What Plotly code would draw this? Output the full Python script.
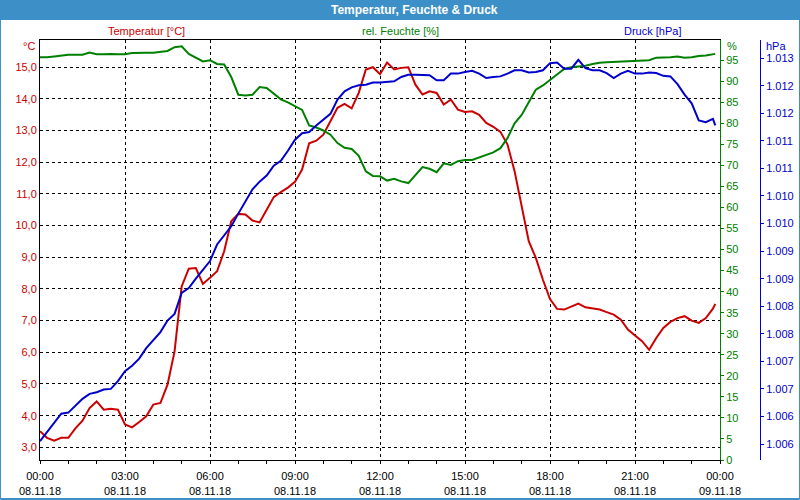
import pandas as pd
import plotly.graph_objects as go

# ---- data (15-minute readings, 08.11.18) ----
times = list(pd.date_range("2018-11-08 00:00", periods=96, freq="15min")) + [pd.Timestamp("2018-11-08 23:50")]

temperatur = [3.51, 3.30, 3.21, 3.30, 3.30, 3.60, 3.84, 4.24, 4.45, 4.19, 4.22, 4.19,
              3.72, 3.63, 3.80, 3.98, 4.35, 4.40, 4.98, 6.03, 8.08, 8.64, 8.66, 8.16,
              8.35, 8.56, 9.19, 10.14, 10.37, 10.35, 10.16, 10.10, 10.50, 10.90, 11.06, 11.20,
              11.38, 11.77, 12.60, 12.68, 12.87, 13.30, 13.72, 13.84, 13.70, 14.19, 14.93, 15.00,
              14.78, 15.15, 14.93, 14.98, 15.00, 14.45, 14.14, 14.24, 14.19, 13.82, 13.98, 13.66,
              13.59, 13.61, 13.50, 13.24, 13.12, 12.96, 12.56, 11.72, 10.61, 9.51, 8.98, 8.29,
              7.68, 7.37, 7.35, 7.45, 7.54, 7.42, 7.38, 7.35, 7.27, 7.19, 7.03, 6.72,
              6.53, 6.35, 6.08, 6.45, 6.77, 6.96, 7.08, 7.14, 7.00, 6.93, 7.08, 7.38, 7.53]

feuchte = [95.7, 95.7, 95.9, 96.1, 96.3, 96.3, 96.3, 96.8, 96.4, 96.4, 96.5, 96.4,
           96.4, 96.7, 96.8, 96.8, 96.8, 97.0, 97.2, 98.1, 98.3, 96.5, 95.6, 94.7,
           95.0, 94.1, 94.0, 91.0, 86.8, 86.6, 86.8, 88.6, 88.4, 87.0, 85.7, 85.0,
           84.1, 83.2, 79.5, 79.0, 78.3, 77.3, 75.3, 74.2, 73.9, 72.3, 68.6, 67.5,
           67.4, 66.4, 66.8, 66.2, 65.8, 67.8, 69.6, 69.2, 68.4, 70.5, 70.1, 71.0,
           71.3, 71.3, 71.9, 72.6, 73.1, 74.1, 76.5, 80.0, 82.0, 85.0, 88.0, 89.0,
           90.3, 91.6, 92.9, 93.3, 93.5, 93.7, 94.1, 94.4, 94.5, 94.6, 94.7, 94.8,
           94.8, 94.9, 95.0, 95.6, 95.6, 95.7, 95.9, 95.6, 95.7, 96.0, 96.1, 96.5, 96.5]

druck = [1005.55, 1005.72, 1005.87, 1006.05, 1006.07, 1006.20, 1006.32, 1006.41, 1006.44, 1006.49, 1006.50, 1006.64,
         1006.82, 1006.92, 1007.05, 1007.24, 1007.38, 1007.53, 1007.74, 1007.86, 1008.24, 1008.33, 1008.50, 1008.65,
         1008.82, 1009.12, 1009.28, 1009.45, 1009.68, 1009.89, 1010.12, 1010.26, 1010.37, 1010.55, 1010.64, 1010.82,
         1011.02, 1011.14, 1011.16, 1011.28, 1011.39, 1011.49, 1011.75, 1011.90, 1011.97, 1012.01, 1012.02, 1012.06,
         1012.06, 1012.07, 1012.08, 1012.16, 1012.20, 1012.20, 1012.20, 1012.19, 1012.10, 1012.10, 1012.22, 1012.22,
         1012.25, 1012.27, 1012.22, 1012.14, 1012.16, 1012.17, 1012.22, 1012.28, 1012.28, 1012.24, 1012.25, 1012.28,
         1012.41, 1012.42, 1012.31, 1012.31, 1012.47, 1012.32, 1012.28, 1012.28, 1012.23, 1012.14, 1012.22, 1012.27,
         1012.22, 1012.22, 1012.24, 1012.23, 1012.18, 1012.17, 1012.03, 1011.84, 1011.68, 1011.37, 1011.34, 1011.40, 1011.28]

temp_ticks = [3, 4, 5, 6, 7, 8, 9, 10, 11, 12, 13, 14, 15]
feuchte_ticks = [0, 5, 10, 15, 20, 25, 30, 35, 40, 45, 50, 55, 60, 65, 70, 75, 80, 85, 90, 95]
druck_ticks = [1005.5, 1006.0, 1006.5, 1007.0, 1007.5, 1008.0, 1008.5, 1009.0,
               1009.5, 1010.0, 1010.5, 1011.0, 1011.5, 1012.0, 1012.5]
druck_ticktext = ["1.006", "1.006", "1.007", "1.007", "1.008", "1.008", "1.009", "1.009",
                  "1.010", "1.010", "1.011", "1.011", "1.012", "1.012", "1.013"]

RED = "#cc0000"
GREEN = "#008000"
BLUE = "#0000cc"
FRAME = "#3d8fc8"
FONT = "Liberation Sans"

fig = go.Figure()
fig.add_trace(go.Scatter(x=times, y=feuchte, yaxis="y2", mode="lines",
                         line=dict(color=GREEN, width=2), name="rel. Feuchte [%]"))
fig.add_trace(go.Scatter(x=times, y=temperatur, yaxis="y", mode="lines",
                         line=dict(color=RED, width=2), name="Temperatur [°C]"))
fig.add_trace(go.Scatter(x=times, y=druck, yaxis="y3", mode="lines",
                         line=dict(color=BLUE, width=2), name="Druck [hPa]"))

W, H = 800, 500
L, R, T, B = 40, 40, 40, 40
pw, ph = W - L - R, H - T - B


def px(x):
    return (x - L) / pw


def py(y):
    return (H - B - y) / ph


fig.update_layout(
    width=W, height=H,
    margin=dict(l=L, r=R, t=T, b=B, autoexpand=False),
    paper_bgcolor="white", plot_bgcolor="white",
    showlegend=False,
    separators=",.",
    font=dict(family=FONT, size=11, color="black"),
    xaxis=dict(
        domain=[0, 680 / pw],
        automargin=False,
        type="date",
        range=["2018-11-08 00:00", "2018-11-09 00:00"],
        tick0="2018-11-08 00:00", dtick=3 * 3600 * 1000,
        tickformat="%H:%M<br>%d.%m.%y",
        ticks="outside", ticklen=3, tickcolor="black",
        ticklabelstandoff=3,
        minor=dict(dtick=3600 * 1000, ticks="outside", ticklen=3, tickcolor="black", showgrid=False),
        showline=True, linecolor="black", linewidth=1, mirror=True,
        showgrid=True, gridcolor="black", gridwidth=1, griddash="3px,3px",
        tickfont=dict(color="black", size=11),
        zeroline=False,
    ),
    yaxis=dict(
        automargin=False,
        range=[2.60, 15.86],
        tickvals=temp_ticks, tickformat=".1f",
        ticks="", showline=True, linecolor="black", linewidth=1,
        showgrid=True, gridcolor="black", gridwidth=1, griddash="3px,3px",
        tickfont=dict(color=RED, size=11),
        zeroline=False,
    ),
    yaxis2=dict(
        automargin=False,
        overlaying="y", side="right", anchor="x",
        range=[0, 99.8], tickvals=feuchte_ticks,
        ticks="outside", ticklen=3, tickcolor=GREEN,
        showline=True, linecolor=GREEN, linewidth=1,
        showgrid=False, zeroline=False,
        tickfont=dict(color=GREEN, size=11),
    ),
    yaxis3=dict(
        automargin=False,
        overlaying="y", side="right", anchor="free", position=1.0,
        range=[1005.21, 1012.83], tickvals=druck_ticks, ticktext=druck_ticktext,
        ticks="outside", ticklen=3, tickcolor=BLUE,
        showline=True, linecolor=BLUE, linewidth=1,
        showgrid=False, zeroline=False,
        tickfont=dict(color=BLUE, size=11),
    ),
    shapes=[
        dict(type="rect", xref="paper", yref="paper", layer="below",
             x0=px(0), x1=px(800), y0=py(20), y1=py(0),
             fillcolor=FRAME, line=dict(width=0)),
        dict(type="rect", xref="paper", yref="paper", layer="above",
             x0=px(0.5), x1=px(799.5), y0=py(499.5), y1=py(0.5),
             fillcolor="rgba(0,0,0,0)", line=dict(color=FRAME, width=1)),
        dict(type="line", xref="paper", yref="paper", layer="above",
             x0=px(0), x1=px(800), y0=py(498.5), y1=py(498.5),
             line=dict(color=FRAME, width=1)),
    ],
    annotations=[
        dict(text="<b>Temperatur, Feuchte & Druck</b>", xref="paper", yref="paper",
             x=px(414), y=py(10), showarrow=False, xanchor="center", yanchor="middle",
             font=dict(color="white", size=12, family=FONT)),
        dict(text="Temperatur [°C]", xref="paper", yref="paper",
             x=px(146), y=py(31), showarrow=False, xanchor="center", yanchor="middle",
             font=dict(color=RED, size=11)),
        dict(text="rel. Feuchte [%]", xref="paper", yref="paper",
             x=px(400), y=py(31), showarrow=False, xanchor="center", yanchor="middle",
             font=dict(color=GREEN, size=11)),
        dict(text="Druck [hPa]", xref="paper", yref="paper",
             x=px(652), y=py(31), showarrow=False, xanchor="center", yanchor="middle",
             font=dict(color=BLUE, size=11)),
        dict(text="°C", xref="paper", yref="paper",
             x=px(37), y=py(46), showarrow=False, xanchor="right", yanchor="middle",
             font=dict(color=RED, size=11)),
        dict(text="%", xref="paper", yref="paper",
             x=px(725), y=py(46), showarrow=False, xanchor="left", yanchor="middle",
             font=dict(color=GREEN, size=11)),
        dict(text="hPa", xref="paper", yref="paper",
             x=px(764), y=py(46), showarrow=False, xanchor="left", yanchor="middle",
             font=dict(color=BLUE, size=11)),
    ],
)

fig.write_html("out.html")
